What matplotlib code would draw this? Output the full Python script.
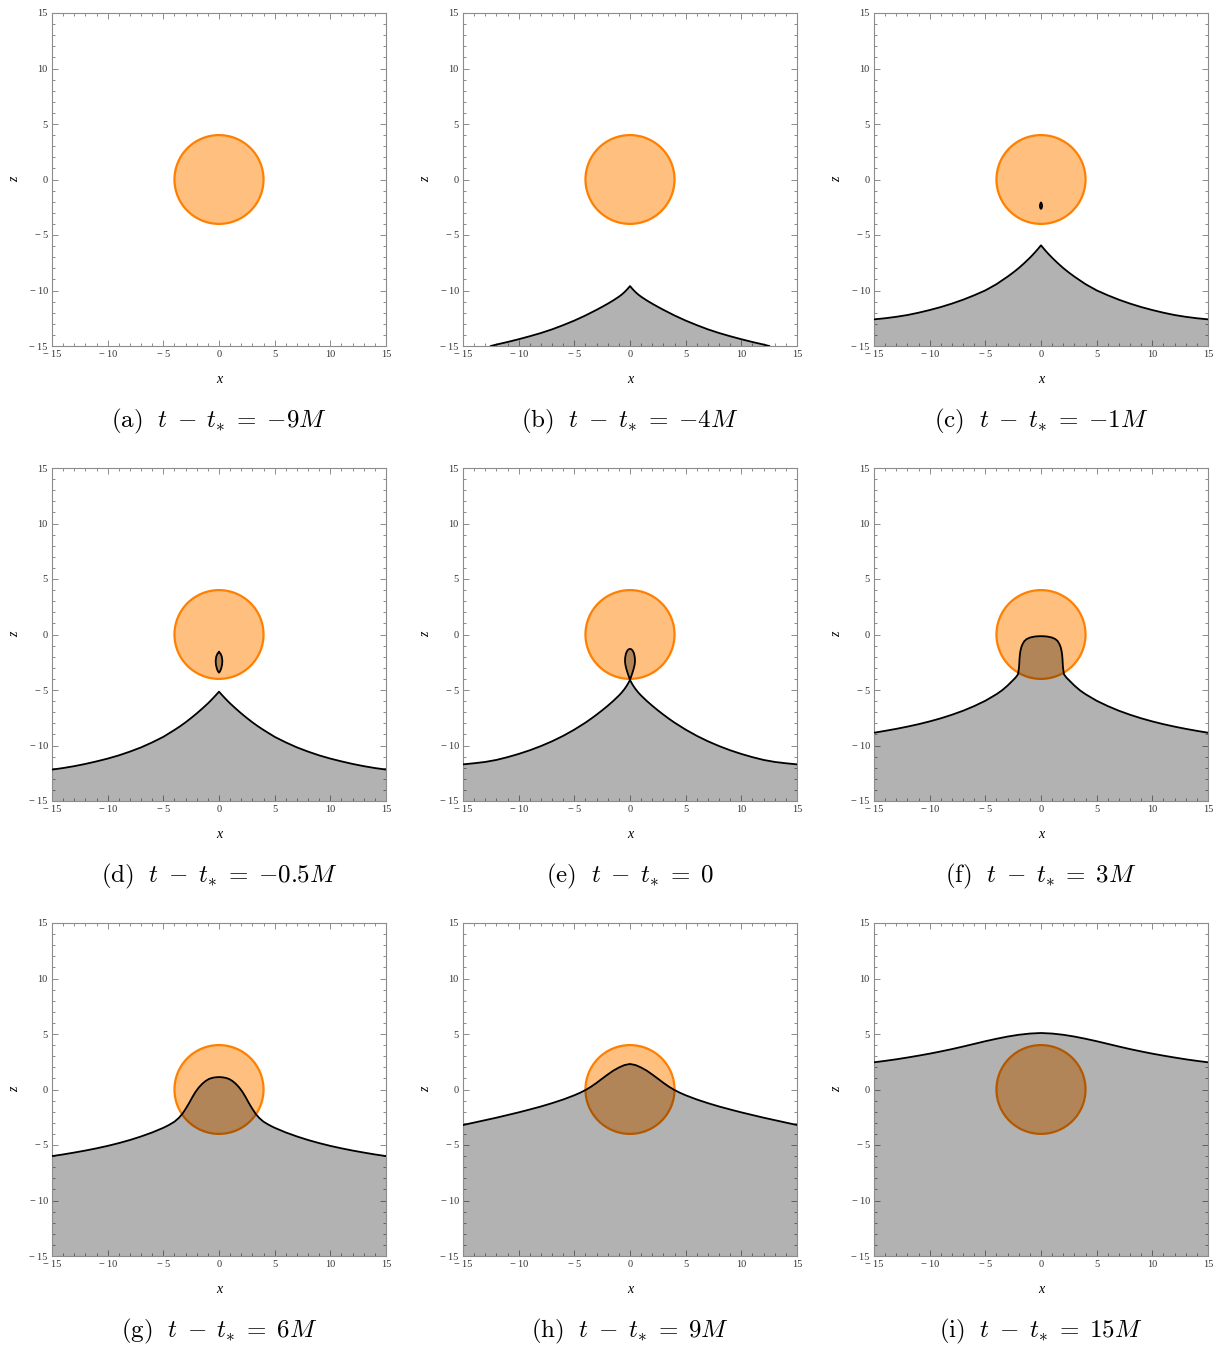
import matplotlib.pyplot as plt
from matplotlib.patches import Circle
from matplotlib.ticker import MultipleLocator, FuncFormatter

plt.rcParams['font.family'] = ['Liberation Serif', 'DejaVu Serif']
plt.rcParams['mathtext.fontset'] = 'cm'

star_radius = 4.0
panel_tags = ['a', 'b', 'c', 'd', 'e', 'f', 'g', 'h', 'i']
time_offsets = ['{-}9M', '{-}4M', '{-}1M', '{-}0.5M', '0', '3M', '6M', '9M', '15M']

# horizon cross-sections, left half only (from the plot edge in to x = 0)
horizon_b_x = [-12.5, -12, -11, -10, -9, -8, -7, -6, -5, -4, -3, -2.5, -2, -1.5, -1,
               -0.75, -0.5, -0.25, 0]
horizon_b_z = [-15.0, -14.87, -14.64, -14.39, -14.12, -13.83, -13.5, -13.12, -12.71,
               -12.25, -11.74, -11.47, -11.19, -10.89, -10.56, -10.37, -10.15, -9.89, -9.6]

half_grid = [-15, -14, -13, -12, -11, -10, -9, -8, -7, -6, -5, -4, -3.5, -3, -2.5, -2,
             -1.5, -1, -0.75, -0.5, -0.25, 0]

horizon_c_x = half_grid
horizon_c_z = [-12.6, -12.5, -12.37, -12.21, -12.0, -11.76, -11.49, -11.18, -10.83,
               -10.43, -9.99, -9.43, -9.09, -8.75, -8.38, -7.98, -7.53, -7.05, -6.79,
               -6.52, -6.23, -5.93]

horizon_d_x = half_grid
horizon_d_z = [-12.17, -12.03, -11.86, -11.66, -11.43, -11.18, -10.89, -10.55, -10.17,
               -9.72, -9.22, -8.6, -8.27, -7.91, -7.52, -7.11, -6.67, -6.21, -5.96,
               -5.7, -5.43, -5.15]

horizon_e_x = half_grid
horizon_e_z = [-11.7, -11.6, -11.48, -11.3, -11.05, -10.76, -10.43, -10.05, -9.62,
               -9.13, -8.57, -7.94, -7.59, -7.22, -6.83, -6.42, -5.98, -5.5, -5.23,
               -4.92, -4.55, -4.1]

horizon_f_x = [-15, -14, -13, -12, -11, -10, -9, -8, -7, -6, -5, -4, -3.5, -3, -2.6,
               -2.3, -2.07, -2.02, -1.98, -1.95, -1.93, -1.9, -1.85, -1.77, -1.65, -1.5,
               -1.3, -1.0, -0.6, -0.3, 0]
horizon_f_z = [-8.85, -8.68, -8.5, -8.3, -8.08, -7.83, -7.55, -7.23, -6.87, -6.45,
               -5.97, -5.38, -5.03, -4.6, -4.2, -3.9, -3.6, -3.3, -3.0, -2.6, -2.2,
               -1.85, -1.5, -1.15, -0.85, -0.6, -0.42, -0.28, -0.19, -0.16, -0.15]

horizon_g_x = [-15, -14, -13, -12, -11, -10, -9, -8, -7, -6, -5, -4.5, -4, -3.6, -3.3,
               -3.0, -2.7, -2.4, -2.1, -1.8, -1.5, -1.2, -0.9, -0.6, -0.3, 0]
horizon_g_z = [-6.0, -5.85, -5.68, -5.5, -5.3, -5.08, -4.83, -4.55, -4.23, -3.87, -3.45,
               -3.2, -2.9, -2.55, -2.2, -1.75, -1.25, -0.7, -0.2, 0.2, 0.52, 0.77, 0.95,
               1.05, 1.1, 1.12]

horizon_h_x = [-15, -14, -13, -12, -11, -10, -9, -8, -7, -6, -5, -4.5, -4, -3.5, -3,
               -2.5, -2, -1.5, -1, -0.5, 0]
horizon_h_z = [-3.2, -2.98, -2.76, -2.54, -2.3, -2.06, -1.8, -1.53, -1.23, -0.9, -0.52,
               -0.3, -0.05, 0.25, 0.6, 0.98, 1.35, 1.7, 1.98, 2.2, 2.3]

horizon_i_x = [-15, -14, -13, -12, -11, -10, -9, -8, -7, -6, -5, -4, -3, -2, -1, 0]
horizon_i_z = [2.45, 2.58, 2.72, 2.88, 3.05, 3.23, 3.43, 3.64, 3.87, 4.11, 4.35, 4.57,
               4.77, 4.93, 5.04, 5.09]

# detached pieces inside the star, right half from top to bottom
bubble_c_x = [0.0, 0.07, 0.1, 0.07, 0.0]
bubble_c_z = [-2.1, -2.2, -2.38, -2.55, -2.65]

bubble_d_x = [0.0, 0.15, 0.25, 0.3, 0.28, 0.2, 0.1, 0.0]
bubble_d_z = [-1.58, -1.75, -2.0, -2.35, -2.7, -3.05, -3.3, -3.44]

# lobe that pinches onto the main horizon at t = t*, right half from the pinch up
loop_e_x = [0.0, 0.1, 0.22, 0.34, 0.42, 0.45, 0.43, 0.36, 0.24, 0.12, 0.0]
loop_e_z = [-4.1, -3.8, -3.45, -3.05, -2.7, -2.4, -2.05, -1.7, -1.45, -1.33, -1.3]


def mirror(xs, zs):
    """left half profile -> full symmetric profile"""
    x = list(xs) + [-v for v in reversed(xs[:-1])]
    z = list(zs) + list(reversed(zs[:-1]))
    return x, z


def closed_bubble(xs, zs):
    """right half (top to bottom) -> closed outline"""
    x = list(xs) + [-v for v in reversed(xs[1:-1])]
    z = list(zs) + list(reversed(zs[1:-1]))
    return x, z


def pinched_horizon(hx, hz, lx, lz):
    # left branch up to the pinch, round the lobe, then down the right branch
    x = list(hx[:-1]) + list(lx) + [-v for v in reversed(lx[:-1])]
    z = list(hz[:-1]) + list(lz) + list(reversed(lz[:-1]))
    x += [-v for v in reversed(hx[:-1])]
    z += list(reversed(hz[:-1]))
    return x, z


horizons = {
    1: mirror(horizon_b_x, horizon_b_z),
    2: mirror(horizon_c_x, horizon_c_z),
    3: mirror(horizon_d_x, horizon_d_z),
    4: pinched_horizon(horizon_e_x, horizon_e_z, loop_e_x, loop_e_z),
    5: mirror(horizon_f_x, horizon_f_z),
    6: mirror(horizon_g_x, horizon_g_z),
    7: mirror(horizon_h_x, horizon_h_z),
    8: mirror(horizon_i_x, horizon_i_z),
}
bubbles = {
    2: closed_bubble(bubble_c_x, bubble_c_z),
    3: closed_bubble(bubble_d_x, bubble_d_z),
}


def tick_label(v, pos):
    v = int(round(v))
    return f'\u2212\u2009{abs(v)}' if v < 0 else f'{v}'


def style_axes(ax):
    ax.set_xlim(-15, 15)
    ax.set_ylim(-15, 15)
    for a in (ax.xaxis, ax.yaxis):
        a.set_major_locator(MultipleLocator(5))
        a.set_minor_locator(MultipleLocator(1))
        a.set_major_formatter(FuncFormatter(tick_label))
    ax.tick_params(which='both', direction='in', top=True, right=True,
                   color='#8c8c8c', width=0.7, labelcolor='#333333',
                   labelsize=7.5, pad=3)
    ax.tick_params(which='major', length=4.5)
    ax.tick_params(which='minor', length=2.5)
    for s in ax.spines.values():
        s.set_color('#8c8c8c')
        s.set_linewidth(0.8)
    ax.text(0.5, -0.102, 'x', transform=ax.transAxes, ha='center', va='center',
            fontsize=10, style='italic')
    ax.text(-0.111, 0.5, 'z', transform=ax.transAxes, ha='center', va='center',
            fontsize=10, style='italic', rotation=90)


fig = plt.figure(figsize=(12.22, 13.49), dpi=100)
W, H = 1222, 1349
col_left = [52, 463, 874]
row_bottom = [346, 801, 1256]
aw, ah = 334, 333

for k in range(9):
    r, c = divmod(k, 3)
    ax = fig.add_axes([col_left[c] / W, 1 - row_bottom[r] / H, aw / W, ah / H])
    style_axes(ax)

    ax.add_patch(Circle((0, 0), star_radius, facecolor=(1, 0.5, 0, 0.5),
                        edgecolor=(1, 0.5, 0), lw=1.6, zorder=1))

    if k in horizons:
        x, z = horizons[k]
        ax.fill(x + [x[-1], x[0]], z + [-15, -15], color='black', alpha=0.3,
                lw=0, zorder=2)
        ax.plot(x, z, color='black', lw=1.3, zorder=3, solid_joinstyle='round')
    if k in bubbles:
        bx, bz = bubbles[k]
        ax.fill(bx, bz, color='black', alpha=0.3, lw=0, zorder=2)
        ax.plot(bx + [bx[0]], bz + [bz[0]], color='black', lw=1.3, zorder=3)

    caption = (rf'$\mathrm{{({panel_tags[k]})}}\ \ t\;-\;t_{{*}}\;=\;'
               rf'{time_offsets[k]}$')
    ax.text(0.5, -0.228, caption, transform=ax.transAxes, ha='center',
            va='center', fontsize=18)

fig.savefig('out.png', dpi=100)
